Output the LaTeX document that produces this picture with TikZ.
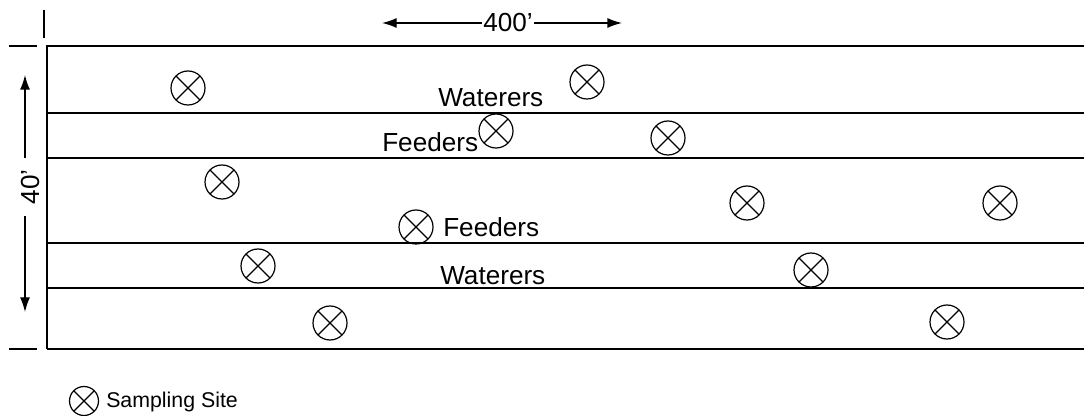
\documentclass[tikz,border=0pt]{standalone}
\usepackage{fontspec}
\setmainfont{Liberation Sans}
\usepackage{tikz}
\usetikzlibrary{arrows.meta}

\tikzset{
  site/.style={draw, circle, line width=0.9pt, minimum size=34*0.75pt, inner sep=0pt,
    path picture={\draw[line width=0.9pt] (path picture bounding box.south west) -- (path picture bounding box.north east)
      (path picture bounding box.north west) -- (path picture bounding box.south east);}},
  lbl/.style={anchor=base west, inner sep=0pt, font=\fontsize{19.6}{22}\selectfont},
  dim/.style={-{Latex[length=11pt,width=7.5pt]}, line width=1pt}
}

\begin{document}
\begin{tikzpicture}[x=0.75pt,y=0.75pt,yscale=-1,xscale=1]
\useasboundingbox (0,0) rectangle (1084,416);

%Pen outline
\draw[line width=1.2pt] (47,349) -- (47,46) -- (1084,46) ;
\draw[line width=1.2pt] (47,113) -- (1084,113) ;
\draw[line width=1.2pt] (47,158) -- (1084,158) ;
\draw[line width=1.2pt] (47,243) -- (1084,243) ;
\draw[line width=1.2pt] (47,288) -- (1084,288) ;
\draw[line width=1.2pt] (47,349) -- (1084,349) ;

%Ticks
\draw[line width=1pt] (44,10) -- (44,38) ;
\draw[line width=1pt] (9,46) -- (37,46) ;
\draw[line width=1pt] (9,349) -- (37,349) ;

%Dimension 400'
\node[inner sep=1pt] (len) at (508,23) {\fontsize{19.6}{22}\selectfont 400'};
\coordinate (lenL) at (382,23);
\coordinate (lenR) at (622,23);
\draw[dim] (len.west) -- (lenL) ;
\draw[dim] (len.east) -- (lenR) ;

%Dimension 40'
\node[rotate=90] (wid) at (31,187) {\fontsize{19.6}{22}\selectfont 40'};
\coordinate (widT) at (25,75);
\coordinate (widB) at (25,312);
\draw[dim] (25,158) -- (widT) ;
\draw[dim] (25,216) -- (widB) ;

%Sampling sites
\node[site] (s1) at (188,88) {};
\node[site] (s2) at (587,82) {};
\node[site] (s3) at (496,131) {};
\node[site] (s4) at (668,138) {};
\node[site] (s5) at (222,182) {};
\node[site] (s6) at (747,203) {};
\node[site] (s7) at (1000,203) {};
\node[site] (s8) at (416,227) {};
\node[site] (s9) at (258,266) {};
\node[site] (s10) at (811,270) {};
\node[site] (s11) at (330,323) {};
\node[site] (s12) at (947,322) {};

% Text Node
\node[lbl] (wat1) at (438,107) {Waterers};
% Text Node
\node[lbl] (fee1) at (382,152) {Feeders};
% Text Node
\node[lbl] (fee2) at (443,237) {Feeders};
% Text Node
\node[lbl] (wat2) at (440,285) {Waterers};

%Legend
\node[site, minimum size=29*0.75pt] (key) at (84,401) {};
\node[anchor=west, inner sep=0pt, font=\fontsize{16}{18}\selectfont] (keytxt) at (106,402) {Sampling Site};

\end{tikzpicture}
\end{document}
